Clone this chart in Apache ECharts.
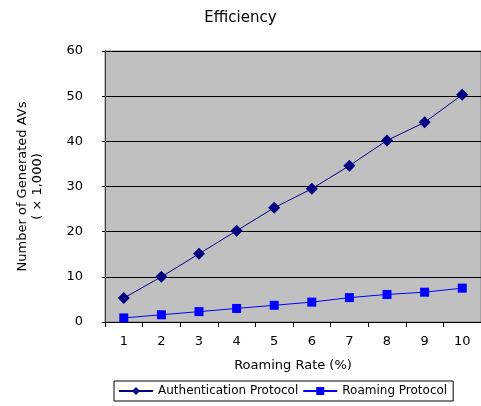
<!DOCTYPE html>
<html>
<head>
<meta charset="utf-8">
<script src="https://cdn.jsdelivr.net/npm/echarts@6/dist/echarts.min.js"></script>
<style>
  html, body { margin: 0; padding: 0; background: #ffffff; }
  #chart { width: 481px; height: 406px; }
</style>
</head>
<body>
<div id="chart"></div>
<script>
// Roaming rate categories (%)
const categories = ['1', '2', '3', '4', '5', '6', '7', '8', '9', '10'];
// Generated AVs (x 1,000)
const authValues = [5.3, 10.0, 15.1, 20.2, 25.3, 29.5, 34.6, 40.2, 44.2, 50.3];
const roamValues = [0.9, 1.6, 2.3, 3.0, 3.7, 4.4, 5.4, 6.1, 6.6, 7.5];
const seriesNames = ['Authentication Protocol', 'Roaming Protocol'];

const font = 'DejaVu Sans';
const chart = echarts.init(document.getElementById('chart'), null, { renderer: 'canvas' });

chart.setOption({
  backgroundColor: '#ffffff',
  animation: false,
  title: {
    text: 'Efficiency',
    left: 'center',
    top: 6,
    textStyle: { fontFamily: font, fontSize: 15, fontWeight: 'normal', color: '#000' }
  },
  legend: {
    data: seriesNames,
    bottom: 5,
    left: 114,
    itemWidth: 34,
    itemHeight: 10,
    itemGap: 4,
    padding: [4, 6, 4, 4],
    borderColor: '#000',
    borderWidth: 1,
    textStyle: { fontFamily: font, fontSize: 12, color: '#000' }
  },
  grid: {
    left: 105,
    top: 51,
    width: 386,
    height: 271,
    show: true,
    backgroundColor: '#c0c0c0',
    borderColor: '#808080',
    borderWidth: 1
  },
  xAxis: {
    type: 'category',
    data: categories,
    boundaryGap: true,
    name: 'Roaming Rate (%)',
    nameLocation: 'middle',
    nameGap: 37,
    nameTextStyle: { fontFamily: font, fontSize: 13, color: '#000' },
    axisLine: { lineStyle: { color: '#000', width: 1 } },
    axisTick: { show: true, alignWithLabel: false, length: 5, lineStyle: { color: '#000' } },
    axisLabel: { fontFamily: font, fontSize: 13, color: '#000', margin: 13 },
    splitLine: { show: false }
  },
  yAxis: {
    type: 'value',
    min: 0,
    max: 60,
    interval: 10,
    name: 'Number of Generated AVs\n( × 1,000)',
    nameLocation: 'middle',
    nameGap: 60,
    nameRotate: 90,
    nameTextStyle: { fontFamily: font, fontSize: 13, color: '#000', lineHeight: 15 },
    axisLine: { show: true, lineStyle: { color: '#404040' } },
    axisTick: { show: true, length: 3, lineStyle: { color: '#000' } },
    axisLabel: { fontFamily: font, fontSize: 13, color: '#000', margin: 22 },
    splitLine: { show: true, lineStyle: { color: '#000', width: 1 } }
  },
  series: [
    {
      name: seriesNames[0],
      type: 'line',
      data: authValues,
      symbol: 'diamond',
      symbolSize: 12,
      itemStyle: { color: '#000080' },
      lineStyle: { color: '#000080', width: 1 }
    },
    {
      name: seriesNames[1],
      type: 'line',
      data: roamValues,
      symbol: 'rect',
      symbolSize: 9,
      itemStyle: { color: '#0000ff' },
      lineStyle: { color: '#0000ff', width: 1 }
    }
  ]
});
</script>
</body>
</html>
